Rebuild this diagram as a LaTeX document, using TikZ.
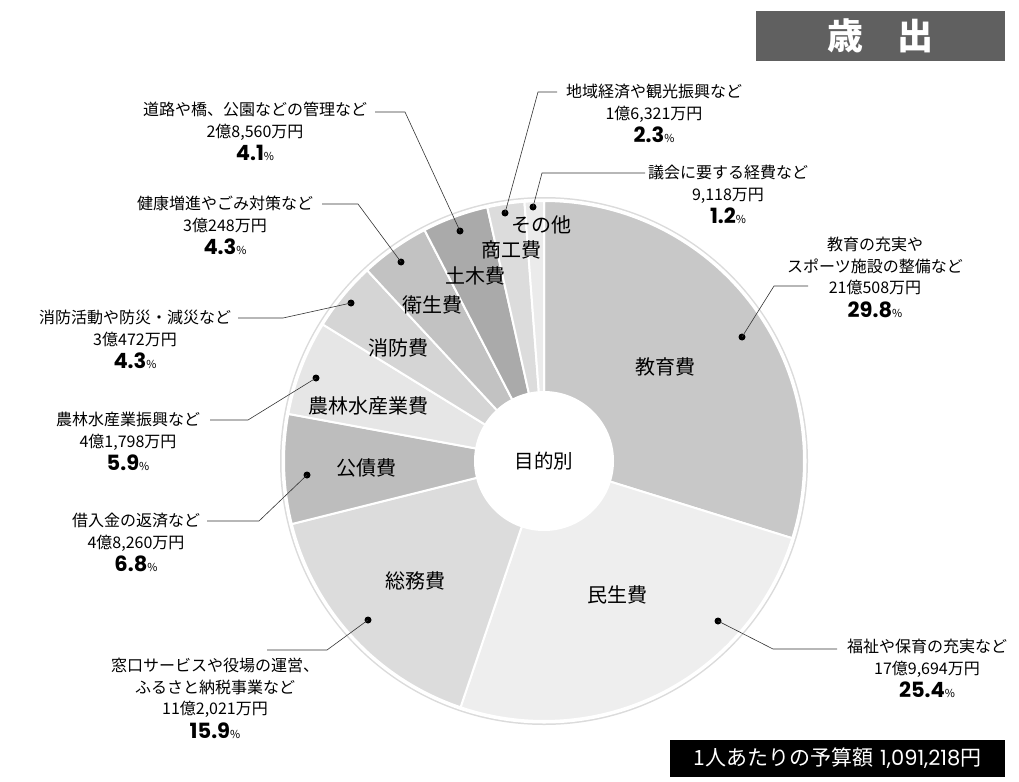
\documentclass[tikz,border=0pt]{standalone}
\usepackage{fontspec}
\setmainfont{Noto Sans CJK JP}
\newfontfamily\numfont{Poppins}
\usepackage{tikz}
\usetikzlibrary{positioning}

\definecolor{titlegray}{HTML}{606060}
\definecolor{cKyoiku}{HTML}{C8C8C8}
\definecolor{cMinsei}{HTML}{EEEEEE}
\definecolor{cSomu}{HTML}{DCDCDC}
\definecolor{cKosai}{HTML}{BDBDBD}
\definecolor{cNorin}{HTML}{E6E6E6}
\definecolor{cShobo}{HTML}{D5D5D5}
\definecolor{cEisei}{HTML}{C2C2C2}
\definecolor{cDoboku}{HTML}{AAAAAA}
\definecolor{cShoko}{HTML}{DCDCDC}
\definecolor{cSonota}{HTML}{EBEBEB}

\newcommand{\pctval}[1]{{\numfont\fontsize{21}{23}\selectfont\bfseries #1}{\fontsize{11}{23}\selectfont\%}}

\begin{document}
\begin{tikzpicture}[x=1pt, y=1pt,
    lbl/.style={align=center, inner sep=0, anchor=north, font=\fontsize{16}{21.5}\selectfont},
    slicelbl/.style={inner sep=0, font=\fontsize{20}{22}\selectfont},
    dot/.style={circle, fill=black, inner sep=0, minimum size=7pt},
    leader/.style={draw=black!80, line width=0.6pt}]
    \useasboundingbox (0,0) rectangle (1019,-781);

    % Title
    \node[fill=titlegray, text=white, minimum width=249, minimum height=50, inner sep=0,
          font=\fontsize{36}{40}\selectfont\bfseries] (title) at (880.5,-36) {歳\hspace{34pt}出};

    % Pie
    \begin{scope}[shift={(544,-461)}]
        \fill[black!14] (0,0) circle (264);
        \fill[white] (0,0) circle (262.5);
        \foreach \a/\b/\c in {90/-17.28/cKyoiku, -17.28/-108.72/cMinsei, -108.72/-165.96/cSomu,
                -165.96/-190.44/cKosai, -190.44/-211.68/cNorin, -211.68/-227.16/cShobo,
                -227.16/-242.64/cEisei, -242.64/-257.4/cDoboku, -257.4/-265.68/cShoko,
                -265.68/-270/cSonota}
            \filldraw[fill=\c, draw=white, line width=2pt, line join=round]
                (0,0) -- (\a:260) arc (\a:\b:260) -- cycle;
        \node[circle, fill=white, minimum size=140, inner sep=0,
              font=\fontsize{19.5}{22}\selectfont] (ctr) at (0,0) {目的別};
    \end{scope}

    % Slice names
    \node[slicelbl] (sKyoiku) at (665,-367) {教育費};
    \node[slicelbl] (sMinsei) at (617,-595) {民生費};
    \node[slicelbl] (sSomu) at (415,-581) {総務費};
    \node[slicelbl] (sKosai) at (366,-468) {公債費};
    \node[slicelbl] (sNorin) at (368,-406) {農林水産業費};
    \node[slicelbl] (sShobo) at (398,-348) {消防費};
    \node[slicelbl] (sEisei) at (432,-305) {衛生費};
    \node[slicelbl] (sDoboku) at (475,-276) {土木費};
    \node[slicelbl] (sShoko) at (511,-250) {商工費};
    \node[slicelbl] (sSonota) at (541,-225) {その他};

    % Labels
    \node[lbl] (lKyoiku) at (875,-237) {教育の充実や\\スポーツ施設の整備など\\21億508万円\\[2pt]\pctval{29.8}};
    \node[lbl] (lMinsei) at (927,-639) {福祉や保育の充実など\\17億9,694万円\\[2pt]\pctval{25.4}};
    \node[lbl] (lSomu) at (215,-658) {窓口サービスや役場の運営、\\ふるさと納税事業など\\11億2,021万円\\[2pt]\pctval{15.9}};
    \node[lbl] (lKosai) at (136,-513) {借入金の返済など\\4億8,260万円\\[2pt]\pctval{6.8}};
    \node[lbl] (lNorin) at (128,-412) {農林水産業振興など\\4億1,798万円\\[2pt]\pctval{5.9}};
    \node[lbl] (lShobo) at (135,-310) {消防活動や防災・減災など\\3億472万円\\[2pt]\pctval{4.3}};
    \node[lbl] (lEisei) at (225,-196) {健康増進やごみ対策など\\3億248万円\\[2pt]\pctval{4.3}};
    \node[lbl] (lDoboku) at (255,-102) {道路や橋、公園などの管理など\\2億8,560万円\\[2pt]\pctval{4.1}};
    \node[lbl] (lShoko) at (654,-84) {地域経済や観光振興など\\1億6,321万円\\[2pt]\pctval{2.3}};
    \node[lbl] (lSonota) at (728,-165) {議会に要する経費など\\9,118万円\\[2pt]\pctval{1.2}};

    % Leaders
    \node[dot] (dKyoiku) at (742,-337) {};
    \coordinate (bKyoiku) at (774,-286);
    \coordinate (eKyoiku) at (808,-286);
    \draw[leader] (dKyoiku.center) -- (bKyoiku) -- (eKyoiku);

    \node[dot] (dMinsei) at (718,-621) {};
    \coordinate (bMinsei) at (773,-649);
    \coordinate (eMinsei) at (837,-649);
    \draw[leader] (dMinsei.center) -- (bMinsei) -- (eMinsei);

    \node[dot] (dSomu) at (368,-620) {};
    \coordinate (bSomu) at (327,-650);
    \coordinate (eSomu) at (267,-650);
    \draw[leader] (dSomu.center) -- (bSomu) -- (eSomu);

    \node[dot] (dKosai) at (307,-475) {};
    \coordinate (bKosai) at (259,-521);
    \coordinate (eKosai) at (207,-521);
    \draw[leader] (dKosai.center) -- (bKosai) -- (eKosai);

    \node[dot] (dNorin) at (316,-378) {};
    \coordinate (bNorin) at (248,-420);
    \coordinate (eNorin) at (210,-420);
    \draw[leader] (dNorin.center) -- (bNorin) -- (eNorin);

    \node[dot] (dShobo) at (351,-303) {};
    \coordinate (bShobo) at (283,-318);
    \coordinate (eShobo) at (238,-318);
    \draw[leader] (dShobo.center) -- (bShobo) -- (eShobo);

    \node[dot] (dEisei) at (401,-262) {};
    \coordinate (bEisei) at (358,-204);
    \coordinate (eEisei) at (322,-204);
    \draw[leader] (dEisei.center) -- (bEisei) -- (eEisei);

    \node[dot] (dDoboku) at (460,-231) {};
    \coordinate (bDoboku) at (405,-112);
    \coordinate (eDoboku) at (375,-112);
    \draw[leader] (dDoboku.center) -- (bDoboku) -- (eDoboku);

    \node[dot] (dShoko) at (505,-213) {};
    \coordinate (bShoko) at (538,-92);
    \coordinate (eShoko) at (557,-92);
    \draw[leader] (dShoko.center) -- (bShoko) -- (eShoko);

    \node[dot] (dSonota) at (533,-207) {};
    \coordinate (bSonota) at (542,-173);
    \coordinate (eSonota) at (645,-173);
    \draw[leader] (dSonota.center) -- (bSonota) -- (eSonota);

    % Per-head box
    \node[fill=black, text=white, minimum width=335, minimum height=37, inner sep=0,
          font=\fontsize{21}{22}\selectfont] (perhead) at (837.5,-758.5) {1人あたりの予算額\hspace{7pt}{\numfont 1,091,218}円};
\end{tikzpicture}
\end{document}
